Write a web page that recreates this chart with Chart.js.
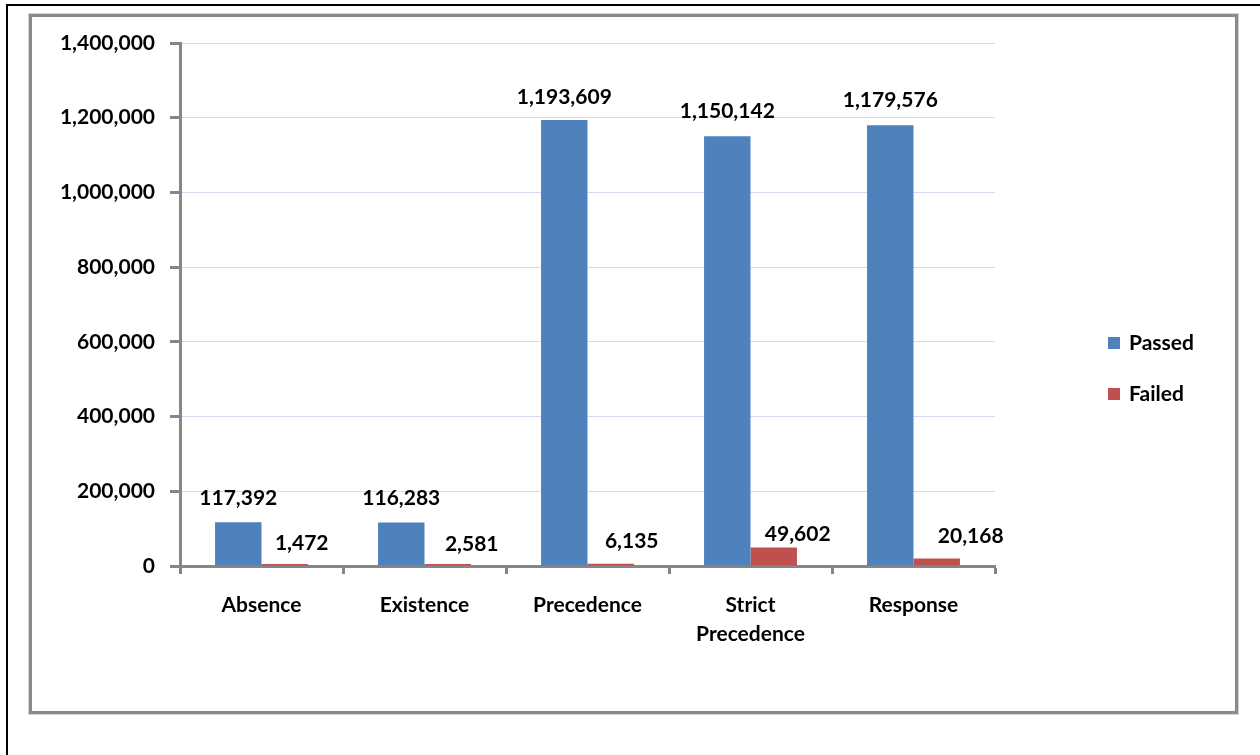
<!DOCTYPE html>
<html>
<head>
<meta charset="utf-8">
<script src="https://cdn.jsdelivr.net/npm/chart.js@4.4.1/dist/chart.umd.min.js"></script>
<style>
  html, body { margin: 0; padding: 0; background: #fff; }
  body { width: 1260px; height: 755px; position: relative; overflow: hidden; }
  #pageTop { position: absolute; left: 6px; top: 4px; width: 1254px; height: 2px; background: #000; }
  #pageLeft { position: absolute; left: 6px; top: 4px; width: 2px; height: 751px; background: #000; }
  #frame { position: absolute; left: 29px; top: 14px; width: 1203px; height: 694px;
           border: 3px solid #8a8a8a; box-shadow: 0 0 0 1px #d4d4d4; }
  #wrap { position: absolute; left: 0; top: 0; width: 1260px; height: 755px; }
</style>
</head>
<body>
<div id="pageTop"></div>
<div id="pageLeft"></div>
<div id="frame"></div>
<div id="wrap"><canvas id="c" width="1260" height="755"></canvas></div>
<script>
// ---- data ----
const categories = ['Absence', 'Existence', 'Precedence', ['Strict', 'Precedence'], 'Response'];
const seriesNames = ['Passed', 'Failed'];
const passed = [117392, 116283, 1193609, 1150142, 1179576];
const failed = [1472, 2581, 6135, 49602, 20168];
const yTicks = [0, 200000, 400000, 600000, 800000, 1000000, 1200000, 1400000];

// ---- styling (not data) ----
const seriesColors = ['#4F81BD', '#C0504D'];
const labelShiftX = [[0, 0, 0, 0, 0], [17, 24, 21, 24, 34]];
const labelShiftY = [[24, 24, 23, 25, 25], [21, 20, 22, 13, 22]];
const FONT = 'Lato, "DejaVu Sans", sans-serif';

const fmt = v => v.toLocaleString('en-US');

const dataLabelPlugin = {
  id: 'dataLabels',
  afterDatasetsDraw(chart) {
    const ctx = chart.ctx;
    ctx.save();
    ctx.font = 'bold 21px ' + FONT;
    ctx.fillStyle = '#000';
    ctx.textAlign = 'center';
    ctx.textBaseline = 'middle';
    chart.data.datasets.forEach((ds, di) => {
      const meta = chart.getDatasetMeta(di);
      meta.data.forEach((bar, i) => {
        ctx.fillText(fmt(ds.data[i]), bar.x + labelShiftX[di][i], bar.y - labelShiftY[di][i]);
      });
    });
    ctx.restore();
  }
};

const legendPlugin = {
  id: 'sideLegend',
  afterDraw(chart) {
    const ctx = chart.ctx;
    const area = chart.chartArea;
    ctx.save();
    ctx.font = 'bold 21px ' + FONT;
    ctx.textAlign = 'left';
    ctx.textBaseline = 'middle';
    chart.data.datasets.forEach((ds, di) => {
      const x = area.right + 113;
      const y = area.top + 300 + di * 51;
      ctx.fillStyle = ds.backgroundColor;
      ctx.fillRect(x, y - 6, 12, 12);
      ctx.fillStyle = '#000';
      ctx.fillText(ds.label, x + 21, y);
    });
    ctx.restore();
  }
};

new Chart(document.getElementById('c'), {
  type: 'bar',
  data: {
    labels: categories,
    datasets: [
      { label: seriesNames[0], data: passed, backgroundColor: seriesColors[0] },
      { label: seriesNames[1], data: failed, backgroundColor: seriesColors[1] }
    ]
  },
  options: {
    responsive: false,
    animation: false,
    devicePixelRatio: 1,
    layout: { padding: { left: 40, top: 43, right: 265, bottom: 100 } },
    datasets: { bar: { categoryPercentage: 0.57, barPercentage: 1.0, minBarLength: 2 } },
    plugins: { legend: { display: false }, tooltip: { enabled: false } },
    scales: {
      x: {
        offset: true,
        grid: { display: true, drawOnChartArea: false, drawTicks: true, tickLength: 8,
                tickColor: '#868686', tickWidth: 3, offset: true },
        border: { display: true, color: '#868686', width: 3 },
        ticks: { color: '#000', padding: 17, font: { family: FONT, size: 21, weight: 'bold', lineHeight: 1.38 } },
        afterFit: s => { s.height = 89; }
      },
      y: {
        min: 0, max: 1400000,
        afterBuildTicks: s => { s.ticks = yTicks.map(v => ({ value: v })); },
        grid: { color: '#d3dbee', lineWidth: 1, drawTicks: true, tickLength: 10,
                tickColor: '#868686', tickWidth: 3 },
        border: { display: true, color: '#868686', width: 3 },
        ticks: { color: '#000', padding: 15, callback: v => fmt(v),
                 font: { family: FONT, size: 21, weight: 'bold' } },
        afterFit: s => { s.width = 140; }
      }
    }
  },
  plugins: [dataLabelPlugin, legendPlugin]
});
</script>
</body>
</html>
